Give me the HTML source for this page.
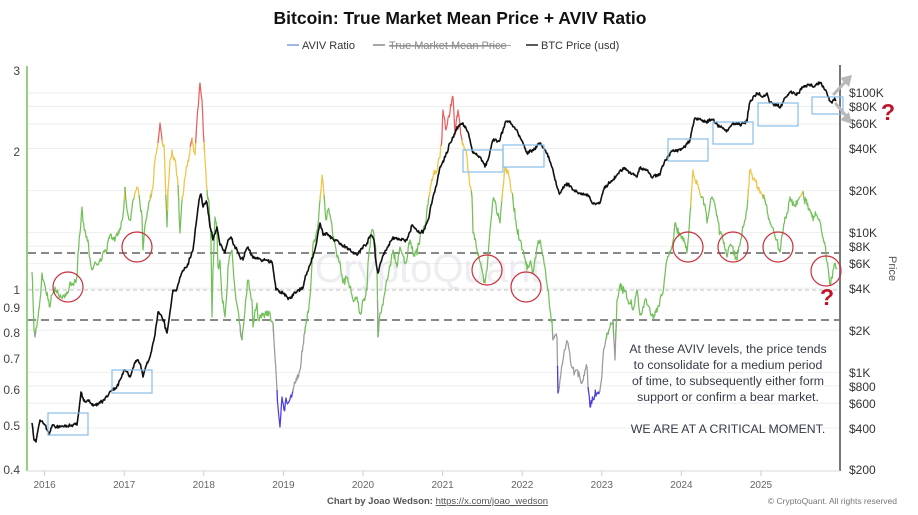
<!DOCTYPE html>
<html><head><meta charset="utf-8"><style>
html,body{margin:0;padding:0;background:#fff;width:918px;height:515px;overflow:hidden}
svg{display:block;font-family:"Liberation Sans",Arial,sans-serif}
</style></head><body>
<svg id="c" width="918" height="515" viewBox="0 0 918 515" xmlns="http://www.w3.org/2000/svg">
<rect width="918" height="515" fill="#fff"/>
<!-- title -->
<text x="460" y="24" text-anchor="middle" font-size="17.5" font-weight="bold" fill="#111">Bitcoin: True Market Mean Price + AVIV Ratio</text>
<!-- legend -->
<line x1="287" y1="45" x2="299" y2="45" stroke="#7f9be0" stroke-width="1.5"/>
<text x="302" y="49" font-size="11" fill="#333">AVIV Ratio</text>
<line x1="373" y1="45" x2="385" y2="45" stroke="#888" stroke-width="1.5"/>
<text x="389" y="49" font-size="11" fill="#888" text-decoration="line-through">True Market Mean Price</text>
<line x1="389" y1="45.5" x2="511" y2="45.5" stroke="#888" stroke-width="0.8"/>
<line x1="526" y1="45" x2="538" y2="45" stroke="#222" stroke-width="1.5"/>
<text x="541" y="49" font-size="11" fill="#333">BTC Price (usd)</text>

<!-- gridlines -->
<g stroke="#eeeeee" stroke-width="1">
<line x1="28" x2="839" y1="93" y2="93"/><line x1="28" x2="839" y1="106.5" y2="106.5"/><line x1="28" x2="839" y1="124" y2="124"/>
<line x1="28" x2="839" y1="148.5" y2="148.5"/><line x1="28" x2="839" y1="190.6" y2="190.6"/><line x1="28" x2="839" y1="232.6" y2="232.6"/>
<line x1="28" x2="839" y1="246.2" y2="246.2"/><line x1="28" x2="839" y1="263.6" y2="263.6"/><line x1="28" x2="839" y1="288.2" y2="288.2"/>
<line x1="28" x2="839" y1="330.3" y2="330.3"/><line x1="28" x2="839" y1="372.4" y2="372.4"/><line x1="28" x2="839" y1="385.9" y2="385.9"/>
<line x1="28" x2="839" y1="403.3" y2="403.3"/><line x1="28" x2="839" y1="428" y2="428"/>
</g>
<!-- watermark -->
<text x="428" y="282" text-anchor="middle" font-size="40" fill="#dcdce6" opacity="0.5">CryptoQuant</text>

<!-- reference dashed lines -->
<line x1="28" x2="839" y1="290" y2="290" stroke="#aaa" stroke-width="0.8" stroke-dasharray="4,3"/>
<line x1="28" x2="839" y1="253" y2="253" stroke="#888" stroke-width="2" stroke-dasharray="8,5"/>
<line x1="28" x2="839" y1="320" y2="320" stroke="#888" stroke-width="2" stroke-dasharray="8,5"/>

<!-- axes -->
<line x1="27" y1="66" x2="27" y2="471" stroke="#72c05a" stroke-width="1.5"/>
<line x1="840" y1="65" x2="840" y2="471" stroke="#777" stroke-width="2"/>
<line x1="27" y1="471" x2="840" y2="471" stroke="#d8d8d8" stroke-width="1"/>
<g stroke="#ccc" stroke-width="1">
<line x1="44.6" x2="44.6" y1="471" y2="476"/><line x1="124.2" x2="124.2" y1="471" y2="476"/><line x1="203.8" x2="203.8" y1="471" y2="476"/>
<line x1="283.4" x2="283.4" y1="471" y2="476"/><line x1="363" x2="363" y1="471" y2="476"/><line x1="442.6" x2="442.6" y1="471" y2="476"/>
<line x1="522.2" x2="522.2" y1="471" y2="476"/><line x1="601.8" x2="601.8" y1="471" y2="476"/><line x1="681.4" x2="681.4" y1="471" y2="476"/>
<line x1="761" x2="761" y1="471" y2="476"/>
</g>
<g font-size="10" fill="#666" text-anchor="middle">
<text x="44.6" y="488">2016</text><text x="124.2" y="488">2017</text><text x="203.8" y="488">2018</text><text x="283.4" y="488">2019</text>
<text x="363" y="488">2020</text><text x="442.6" y="488">2021</text><text x="522.2" y="488">2022</text><text x="601.8" y="488">2023</text>
<text x="681.4" y="488">2024</text><text x="761" y="488">2025</text>
</g>
<!-- left labels -->
<g font-size="12" fill="#444" text-anchor="end">
<text x="20" y="75">3</text><text x="20" y="156">2</text><text x="20" y="294">1</text><text x="20" y="312">0.9</text>
<text x="20" y="337">0.8</text><text x="20" y="363">0.7</text><text x="20" y="394">0.6</text><text x="20" y="430">0.5</text><text x="20" y="474">0.4</text>
</g>
<!-- right labels -->
<g font-size="12" fill="#333">
<text x="849" y="97">$100K</text><text x="849" y="111">$80K</text><text x="849" y="128">$60K</text><text x="849" y="153">$40K</text>
<text x="849" y="195">$20K</text><text x="849" y="237">$10K</text><text x="849" y="251">$8K</text><text x="849" y="268">$6K</text>
<text x="849" y="293">$4K</text><text x="849" y="335">$2K</text><text x="849" y="377">$1K</text><text x="849" y="391">$800</text>
<text x="849" y="408">$600</text><text x="849" y="433">$400</text><text x="849" y="474">$200</text>
</g>
<text x="0" y="0" font-size="11" fill="#555" transform="translate(889,256) rotate(90)">Price</text>

<g id="aviv" fill="none" stroke-width="1.25" stroke-linejoin="round"></g>
<g id="btc" fill="none" stroke="#111" stroke-width="1.6" stroke-linejoin="round"></g>

<!-- blue boxes -->
<g fill="none" stroke="#86bde8" stroke-width="1.2">
<rect x="48" y="413" width="40" height="22"/>
<rect x="112" y="370" width="40" height="23"/>
<rect x="463" y="150" width="40" height="22"/>
<rect x="503" y="145" width="41" height="22"/>
<rect x="668" y="139" width="40" height="22"/>
<rect x="713" y="122" width="40" height="22"/>
<rect x="758" y="103" width="40" height="23"/>
<rect x="812" y="97" width="31" height="17"/>
</g>
<!-- red circles -->
<g fill="none" stroke="#c8303c" stroke-width="1.2">
<circle cx="68" cy="287" r="15"/><circle cx="137" cy="247" r="15"/><circle cx="487" cy="270" r="15"/><circle cx="526" cy="287" r="15"/>
<circle cx="688" cy="247" r="15"/><circle cx="733" cy="247" r="15"/><circle cx="778" cy="247" r="15"/><circle cx="826" cy="271" r="15"/>
</g>
<!-- arrows -->
<g stroke="#b8b8b8" stroke-width="3" fill="none" stroke-linecap="round">
<line x1="834" y1="94" x2="847" y2="80"/><line x1="836" y1="104" x2="848" y2="118"/>
</g>
<polygon points="852,75 840,78 849,87" fill="#b8b8b8"/>
<polygon points="852,124 849,112 840,120" fill="#b8b8b8"/>
<!-- question marks -->
<text x="827" y="305" text-anchor="middle" font-size="23" font-weight="bold" fill="#c0142a">?</text>
<text x="888" y="120" text-anchor="middle" font-size="23" font-weight="bold" fill="#c0142a">?</text>

<!-- annotation -->
<g font-size="12.3" fill="#353a48" text-anchor="middle">
<text x="728" y="353">At these AVIV levels, the price tends</text>
<text x="728" y="369">to consolidate for a medium period</text>
<text x="728" y="385">of time, to subsequently either form</text>
<text x="728" y="401">support or confirm a bear market.</text>
<text x="728" y="433">WE ARE AT A CRITICAL MOMENT.</text>
</g>

<!-- footer -->
<text x="327" y="504" font-size="9.5" font-weight="bold" fill="#555">Chart by Joao Wedson: <tspan font-weight="normal" fill="#555" text-decoration="underline">https://x.com/joao_wedson</tspan></text>
<text x="897" y="504" text-anchor="end" font-size="8.5" fill="#777">© CryptoQuant. All rights reserved</text>
</svg>
<script>
(function(){
var NS="http://www.w3.org/2000/svg";
var seed=12345;
function r(){seed=(seed*1664525+1013904223)>>>0;return seed/4294967296;}
function dens(p,step,amp){
  var out=[];var slow=0;
  for(var i=0;i<p.length-1;i++){
    var a=p[i],b=p[i+1];var n=Math.max(1,Math.round((b[0]-a[0])/step));
    for(var k=0;k<n;k++){
      var t=k/n;var x=a[0]+(b[0]-a[0])*t;var y=a[1]+(b[1]-a[1])*t;
      if(k>0){slow=slow*0.7+(r()-0.5)*amp*0.7;y+=slow+(r()-0.5)*amp;}
      out.push([x,y]);
    }
  }
  out.push(p[p.length-1]);return out;
}
var BTC=[[32,423],[34,440],[36,442],[38,430],[40,420],[43,423],[45,425],[47,430],[49,435],[51,428],[54,425],[58,428],[62,426],[66,427],[70,426],[74,424],[77,425],[79,410],[81,392],[83,398],[85,402],[88,400],[92,405],[96,404],[100,403],[104,400],[108,396],[111,391],[114,388],[117,386],[120,380],[123,374],[125,370],[127,372],[130,377],[133,368],[137,360],[140,364],[143,377],[146,366],[149,360],[152,348],[155,335],[158,312],[161,315],[164,320],[167,333],[170,312],[173,290],[176,291],[180,277],[184,270],[187,267],[190,258],[193,250],[196,225],[199,200],[201,194],[203,207],[205,204],[207,203],[210,227],[213,240],[217,227],[220,245],[223,250],[225,253],[228,240],[231,237],[234,245],[237,250],[240,257],[243,260],[246,250],[248,247],[251,255],[253,258],[258,259],[263,260],[268,261],[272,262],[274,275],[276,290],[280,293],[285,296],[290,298],[295,292],[300,288],[303,288],[306,275],[310,265],[313,257],[316,245],[320,223],[323,235],[327,233],[332,238],[337,240],[342,245],[347,247],[352,252],[357,255],[362,248],[367,243],[371,235],[374,240],[376,262],[378,273],[381,262],[384,253],[388,247],[393,237],[400,240],[407,240],[410,232],[412,225],[415,228],[418,232],[423,233],[428,220],[431,205],[433,197],[437,183],[440,167],[444,160],[447,153],[450,143],[453,137],[457,127],[460,125],[463,123],[466,128],[468,132],[471,145],[473,153],[477,155],[480,157],[483,162],[485,167],[488,160],[491,148],[493,140],[497,142],[500,140],[503,130],[505,123],[508,121],[511,124],[514,127],[517,130],[520,137],[523,143],[527,153],[530,150],[533,150],[537,146],[540,143],[543,148],[545,150],[548,157],[550,162],[553,170],[555,180],[557,187],[560,193],[563,187],[567,183],[570,186],[573,190],[577,192],[580,193],[584,195],[587,194],[590,198],[592,203],[596,204],[600,203],[602,195],[604,189],[607,187],[610,183],[613,180],[617,175],[620,171],[623,168],[627,170],[630,172],[634,175],[637,177],[640,168],[644,169],[647,170],[650,174],[653,177],[657,176],[660,175],[663,166],[665,160],[669,155],[673,150],[677,150],[680,149],[683,148],[687,143],[690,140],[693,126],[695,118],[699,119],[702,120],[705,122],[707,123],[710,121],[713,120],[717,124],[720,127],[724,129],[727,130],[730,127],[733,123],[737,124],[740,125],[744,123],[747,122],[748,112],[750,102],[753,97],[757,93],[760,95],[763,97],[767,93],[770,102],[773,104],[777,105],[780,108],[783,102],[786,97],[790,92],[794,93],[797,93],[800,90],[802,87],[806,86],[810,85],[813,87],[816,85],[820,83],[823,86],[825,90],[828,97],[830,101],[832,103],[834,100],[836,101]];
var AV=[[32,272],[33,300],[34,330],[35,337],[36,328],[38,318],[40,300],[42,273],[44,282],[46,292],[48,300],[50,307],[52,295],[55,287],[58,293],[61,297],[64,296],[67,292],[70,282],[73,285],[77,277],[78,253],[80,233],[82,207],[83,222],[85,230],[88,240],[90,258],[92,270],[95,262],[98,265],[102,259],[107,250],[110,235],[113,240],[116,236],[120,230],[123,215],[125,187],[127,210],[130,220],[133,200],[137,187],[139,195],[142,217],[143,250],[145,225],[148,210],[150,200],[153,187],[155,160],[158,143],[160,123],[162,140],[164,145],[167,227],[168,190],[170,160],[172,150],[175,160],[178,185],[180,233],[182,200],[185,177],[188,160],[192,138],[195,155],[197,120],[199,95],[200,83],[202,100],[204,142],[207,190],[209,203],[211,240],[212,317],[213,270],[215,217],[217,230],[218,267],[220,260],[222,297],[225,317],[227,290],[228,267],[230,255],[232,250],[235,290],[238,310],[240,325],[242,340],[245,310],[248,280],[250,290],[252,300],[253,327],[255,310],[257,303],[258,320],[260,315],[262,313],[266,312],[270,313],[273,323],[275,357],[277,390],[278,407],[280,427],[282,397],[284,410],[286,398],[288,403],[291,395],[295,383],[298,378],[300,370],[303,345],[307,320],[310,297],[313,243],[316,235],[318,225],[320,200],[322,175],[324,195],[326,220],[328,210],[330,215],[333,237],[337,257],[340,262],[343,283],[347,278],[350,287],[353,300],[357,297],[360,313],[363,300],[367,290],[368,263],[370,247],[372,230],[375,243],[377,270],[378,337],[380,313],[383,305],[387,280],[390,265],[393,250],[397,267],[400,247],[405,263],[410,240],[413,253],[417,255],[420,237],[425,228],[428,205],[431,185],[433,177],[437,170],[440,157],[442,137],[443,110],[446,130],[448,118],[450,112],[453,97],[455,135],[458,110],[460,125],[462,140],[465,150],[467,157],[468,170],[470,187],[472,197],[473,233],[477,250],[480,262],[482,270],[485,283],[487,270],[490,230],[493,200],[496,205],[500,223],[503,187],[505,167],[508,170],[510,180],[512,193],[513,200],[517,230],[520,240],[523,250],[527,270],[530,262],[533,273],[537,247],[540,240],[543,255],[545,267],[548,290],[550,310],[552,320],[553,340],[555,335],[557,338],[558,393],[560,380],[563,360],[565,350],[568,343],[571,365],[574,375],[577,370],[580,378],[582,383],[585,370],[587,367],[588,387],[590,407],[593,400],[597,393],[600,390],[602,375],[603,357],[605,345],[607,333],[610,327],[613,320],[615,360],[617,300],[620,285],[624,290],[628,300],[633,310],[637,290],[640,315],[645,300],[650,310],[653,317],[657,312],[660,300],[663,293],[665,275],[667,260],[670,252],[672,247],[675,223],[678,228],[682,238],[685,243],[687,253],[689,230],[690,213],[692,185],[693,170],[695,180],[698,185],[702,197],[705,205],[707,223],[710,205],[712,197],[716,210],[720,233],[723,240],[727,257],[730,245],[734,255],[737,260],[740,245],[742,233],[745,220],[747,210],[749,185],[750,170],[753,180],[757,188],[760,193],[765,200],[768,215],[772,227],[776,240],[780,252],[782,235],[785,217],[790,197],[795,205],[800,197],[802,193],[806,200],[810,210],[812,217],[816,215],[820,222],[822,233],[825,245],[828,267],[830,285],[833,270],[835,263],[837,268]];
function cat(y){if(y<143)return 0;if(y<197)return 1;if(y<=333)return 2;if(y<=390)return 3;return 4;}
var cols=["#e8605e","#f0c444","#72c05a","#9a9a9a","#4b3de0"];
var a=dens(AV,0.6,6);
var g=document.getElementById("aviv");
var cur=cat(a[0][1]);var pts=[a[0]];
function flush(c,ps){var pl=document.createElementNS(NS,"polyline");pl.setAttribute("points",ps.map(function(q){return q[0].toFixed(1)+","+q[1].toFixed(1);}).join(" "));pl.setAttribute("stroke",cols[c]);g.appendChild(pl);}
for(var i=1;i<a.length;i++){
  var c=cat(a[i][1]);
  if(c!==cur){pts.push(a[i]);flush(cur,pts);pts=[a[i-1],a[i]];cur=c;}
  else pts.push(a[i]);
}
flush(cur,pts);
var b=dens(BTC,0.6,2.6);
var pl=document.createElementNS(NS,"polyline");
pl.setAttribute("points",b.map(function(q){return q[0].toFixed(1)+","+q[1].toFixed(1);}).join(" "));
document.getElementById("btc").appendChild(pl);
})();
</script>
</body></html>
